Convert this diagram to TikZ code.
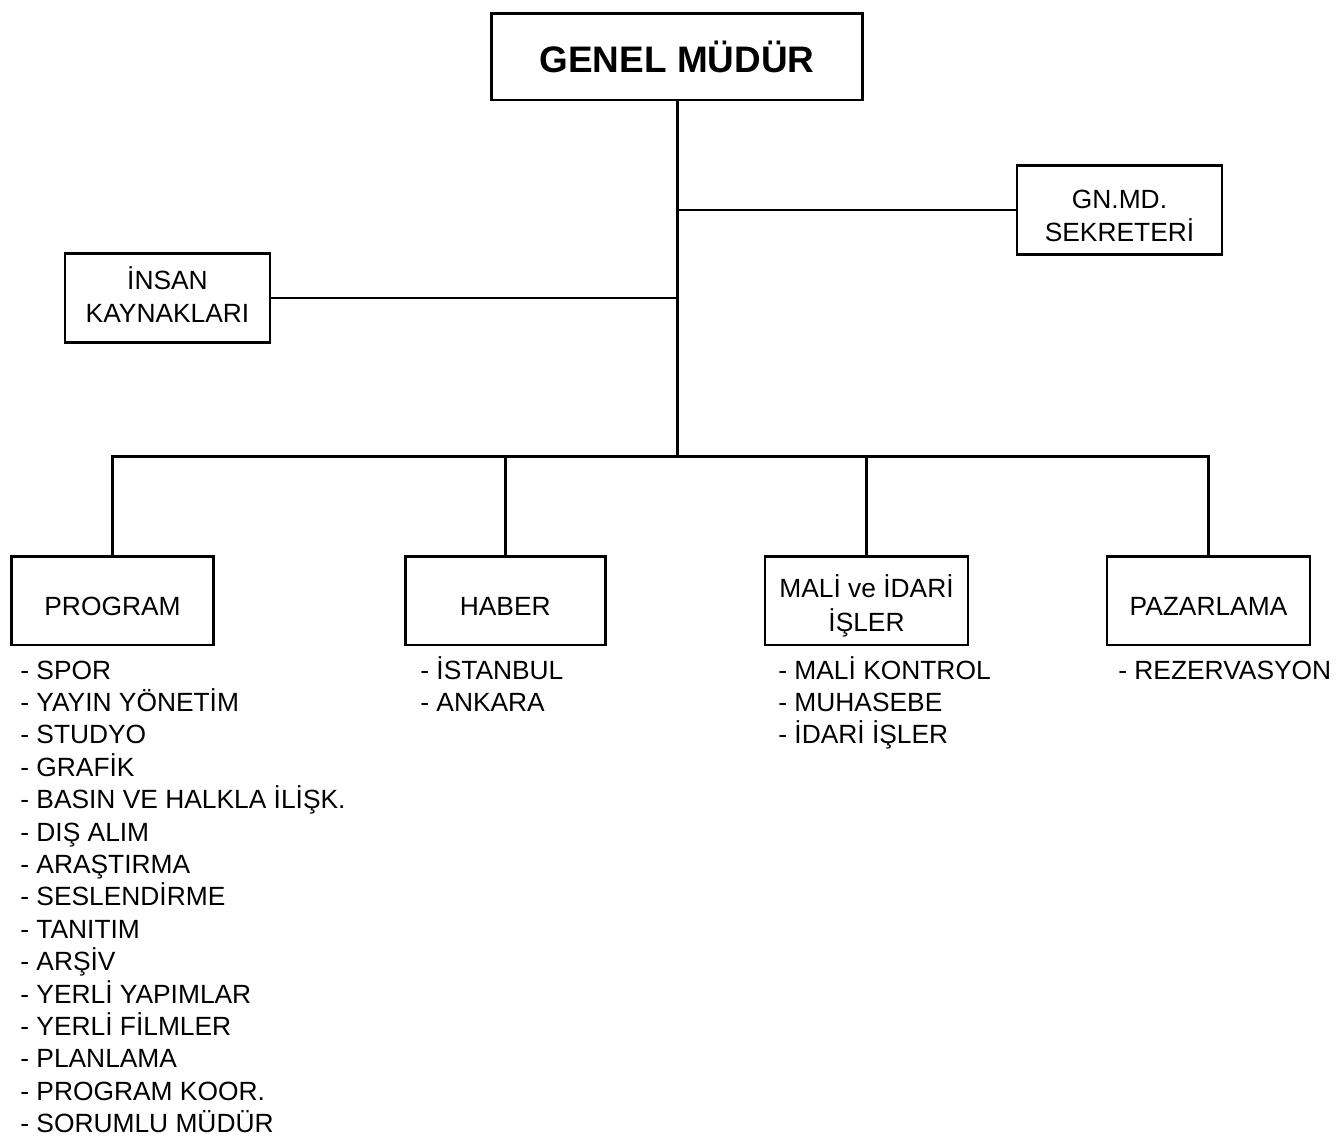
\documentclass[tikz,border=0pt]{standalone}
\usepackage{fontspec}
\setmainfont{Liberation Sans}
\newcommand\lowtext[2]{\raisebox{#1}[0pt][0pt]{\begin{tabular}[b]{@{}c@{}}#2\end{tabular}}}
\begin{document}
\begin{tikzpicture}[x=0.02cm,y=-0.02cm,
  conn/.style={line width=1.7pt},
  box/.style={draw, line width=1.6pt, inner sep=0pt, align=center,
    minimum width=4.04cm, minimum height=1.77cm,
    font=\fontsize{15}{19}\selectfont},
  item/.style={anchor=base west, inner sep=0pt, font=\fontsize{15}{17}\selectfont}]
\useasboundingbox (0,0) rectangle (1341,1139);

% boxes
\node[box, minimum width=7.43cm, minimum height=1.73cm,
      font=\fontsize{21}{24}\selectfont\bfseries] (gm) at (677,56.75) {GENEL MÜDÜR};
\node[box, minimum width=4.1cm, minimum height=1.78cm] (gn) at (1119.5,210)
  {\lowtext{-18pt}{GN.MD.\\SEKRETERİ}};
\node[box, minimum width=4.1cm, minimum height=1.77cm] (ik) at (167.5,298)
  {\lowtext{-14pt}{İNSAN\\KAYNAKLARI}};
\node[box] (prog) at (112.5,600.75) {\lowtext{-8.2pt}{PROGRAM}};
\node[box, minimum width=4.0cm] (hab) at (505.25,600.75) {\lowtext{-8.2pt}{HABER}};
\node[box, minimum width=4.06cm] (mali) at (866.5,600.75)
  {\lowtext{-17.3pt}{MALİ ve İDARİ\\İŞLER}};
\node[box, minimum width=4.06cm] (paz) at (1208.5,600.75) {\lowtext{-8.2pt}{PAZARLAMA}};

\coordinate (bus) at (678.5,456);

% connectors
\draw[conn] (gm.south) -- (gm.south |- bus);
\draw[conn] (gn.west) -- (gn.west -| gm.south);
\draw[conn] (ik.east) -- (ik.east -| gm.south);
\draw[conn] (prog.north) |- (paz.north |- bus) -- (paz.north);
\draw[conn] (hab.north) -- (hab.north |- bus);
\draw[conn] (mali.north) -- (mali.north |- bus);

% lists
\foreach [count=\i] \t in {SPOR, YAYIN YÖNETİM, STUDYO, GRAFİK,
  BASIN VE HALKLA İLİŞK., DIŞ ALIM, ARAŞTIRMA, SESLENDİRME, TANITIM,
  ARŞİV, YERLİ YAPIMLAR, YERLİ FİLMLER, PLANLAMA, PROGRAM KOOR.,
  SORUMLU MÜDÜR}
  \node[item] (p\i) at (20,{679+32.4*(\i-1)}) {- \t};

\foreach [count=\i] \t in {İSTANBUL, ANKARA}
  \node[item] (h\i) at (420,{679+32.4*(\i-1)}) {- \t};

\foreach [count=\i] \t in {MALİ KONTROL, MUHASEBE, İDARİ İŞLER}
  \node[item] (m\i) at (778,{679+32.4*(\i-1)}) {- \t};

\node[item] (z1) at (1118,679) {- REZERVASYON};
\end{tikzpicture}
\end{document}
